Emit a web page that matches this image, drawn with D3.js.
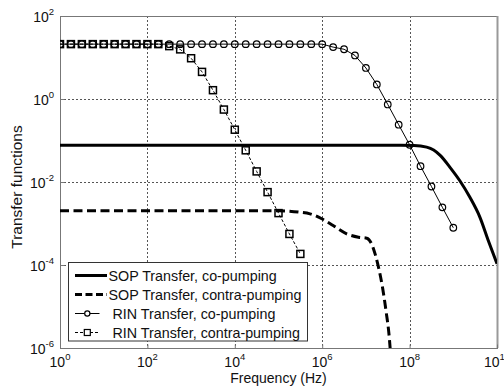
<!DOCTYPE html>
<html>
<head>
<meta charset="utf-8">
<script src="https://cdn.jsdelivr.net/npm/d3@7/dist/d3.min.js"></script>
<style>
  html, body { margin: 0; padding: 0; background: #fff; }
  svg { display: block; font-family: Arial, "Liberation Sans", sans-serif; }
</style>
</head>
<body>
<svg id="chart" width="504" height="388"></svg>
<script>
// Frequency samples are given as log10(f / Hz); transfer values are linear.
const rinCoLogF = [0, 0.25, 0.5, 0.75, 1, 1.25, 1.5, 1.75, 2, 2.25, 2.5, 2.75, 3, 3.25, 3.5, 3.75,
  4, 4.25, 4.5, 4.75, 5, 5.25, 5.5, 5.75, 6, 6.25, 6.5, 6.75, 7, 7.25, 7.5, 7.75, 8, 8.25, 8.5, 8.75, 9];
const rinCoVal = [21, 21, 21, 21, 21, 21, 21, 21, 21, 21, 21, 21, 21, 21, 21, 21,
  21, 21, 21, 21, 21, 21, 21, 21, 21, 17.8, 15.8, 11.2, 5.6, 2.24, 0.74, 0.24, 0.079, 0.024, 0.0078, 0.00245, 0.00079];

const rinContraLogF = [0, 0.25, 0.5, 0.75, 1, 1.25, 1.5, 1.75, 2, 2.25, 2.5, 2.75, 3, 3.25, 3.5, 3.75,
  4, 4.25, 4.5, 4.75, 5, 5.25, 5.5];
const rinContraVal = [21, 21, 21, 21, 21, 21, 21, 21, 21, 21, 18.8, 15.7, 9.6, 4.5, 1.63, 0.557,
  0.182, 0.058, 0.018, 0.0057, 0.00178, 0.00056, 0.000185];

const sopCoLogF = [0, 7.8, 8.1, 8.39, 8.55, 8.7, 8.92, 9.15, 9.38, 9.61, 9.8, 10];
const sopCoVal = [0.0766, 0.0766, 0.0759, 0.0692, 0.0589, 0.0437, 0.0229, 0.0107, 0.00427, 0.00141, 0.00039, 0.000107];

const sopContraLogF = [0, 5.0, 5.49, 5.72, 5.99, 6.25, 6.56, 6.83, 7.02, 7.13, 7.21, 7.28, 7.38, 7.46, 7.535, 7.57];
const sopContraVal = [0.00203, 0.00203, 0.00187, 0.00171, 0.0013, 0.000895, 0.000564, 0.000467, 0.000442,
  0.000324, 0.000185, 0.0000966, 0.0000289, 0.0000079, 0.0000018, 0.0000006];

const xTickExp = [0, 2, 4, 6, 8, 10];
const yTickExp = [-6, -4, -2, 0, 2];

const legendLabels = [
  "SOP Transfer, co-pumping",
  "SOP Transfer, contra-pumping",
  " RIN Transfer, co-pumping",
  " RIN Transfer, contra-pumping"
];

const svg = d3.select("#chart");
const plot = { left: 60, right: 497, top: 16, bottom: 348 };

const x = d3.scaleLog().domain([1, 1e10]).range([plot.left, plot.right]);
const y = d3.scaleLog().domain([1e-6, 1e2]).range([plot.bottom, plot.top]);

const toPoints = (logF, vals) => logF.map((e, i) => ({ f: Math.pow(10, e), v: vals[i] }));

svg.append("defs").append("clipPath").attr("id", "plotClip")
  .append("rect")
  .attr("x", plot.left).attr("y", plot.top)
  .attr("width", plot.right - plot.left).attr("height", plot.bottom - plot.top);

// Dotted grid
const grid = svg.append("g").attr("stroke", "#555").attr("stroke-width", 1).attr("stroke-dasharray", "2,2");
xTickExp.filter(e => e > 0 && e < 10).forEach(e => {
  const px = Math.round(x(Math.pow(10, e))) + 0.5;
  grid.append("line").attr("x1", px).attr("x2", px).attr("y1", plot.top).attr("y2", plot.bottom);
});
yTickExp.filter(e => e > -6 && e < 2).forEach(e => {
  const py = Math.round(y(Math.pow(10, e))) + 0.5;
  grid.append("line").attr("x1", plot.left).attr("x2", plot.right).attr("y1", py).attr("y2", py);
});

// Frame
svg.append("rect")
  .attr("x", plot.left + 0.5).attr("y", plot.top + 0.5)
  .attr("width", plot.right - plot.left).attr("height", plot.bottom - plot.top)
  .attr("fill", "none").attr("stroke", "#777").attr("stroke-width", 1);
svg.append("line").attr("x1", plot.right + 0.5).attr("x2", plot.right + 0.5)
  .attr("y1", plot.top).attr("y2", plot.bottom).attr("stroke", "#999").attr("stroke-width", 2);

// Power-of-ten tick labels
const fmtPow = (g, exps, isX) => {
  exps.forEach(e => {
    const t = g.append("text").attr("font-size", 14).attr("fill", "#111");
    if (isX) {
      t.attr("x", x(Math.pow(10, e))).attr("y", 367).attr("text-anchor", "middle");
    } else {
      t.attr("x", 54).attr("y", y(Math.pow(10, e)) + 6).attr("text-anchor", "end");
    }
    t.append("tspan").text("10");
    t.append("tspan").attr("font-size", 9.5).attr("dy", -7).text(e);
  });
};
const xAxisG = svg.append("g");
fmtPow(xAxisG, xTickExp, true);
const yAxisG = svg.append("g");
fmtPow(yAxisG, yTickExp, false);

// Inward ticks through d3 axes
svg.append("g").attr("transform", `translate(0,${plot.bottom + 0.5})`)
  .call(d3.axisTop(x).tickValues(xTickExp.map(e => Math.pow(10, e))).tickSize(4).tickFormat(""))
  .call(g => g.select(".domain").remove())
  .call(g => g.selectAll("line").attr("stroke", "#777"));
svg.append("g").attr("transform", `translate(${plot.left + 0.5},0)`)
  .call(d3.axisRight(y).tickValues(yTickExp.map(e => Math.pow(10, e))).tickSize(4).tickFormat(""))
  .call(g => g.select(".domain").remove())
  .call(g => g.selectAll("line").attr("stroke", "#777"));

svg.append("text").attr("x", (plot.left + plot.right) / 2).attr("y", 383)
  .attr("text-anchor", "middle").attr("font-size", 14).attr("fill", "#111").text("Frequency (Hz)");
svg.append("text").attr("transform", `translate(22,${(plot.top + plot.bottom) / 2 + 5}) rotate(-90)`)
  .attr("text-anchor", "middle").attr("font-size", 15.5).attr("fill", "#111").text("Transfer functions");

// Curves
const line = d3.line().x(d => x(d.f)).y(d => y(d.v)).curve(d3.curveMonotoneX);
const lineStraight = d3.line().x(d => x(d.f)).y(d => y(d.v));
const curves = svg.append("g").attr("clip-path", "url(#plotClip)");

const sopCo = toPoints(sopCoLogF, sopCoVal);
const sopContra = toPoints(sopContraLogF, sopContraVal);
const rinCo = toPoints(rinCoLogF, rinCoVal);
const rinContra = toPoints(rinContraLogF, rinContraVal);

curves.append("path").datum(sopCo).attr("d", line)
  .attr("fill", "none").attr("stroke", "#000").attr("stroke-width", 3);
curves.append("path").datum(sopContra).attr("d", line)
  .attr("fill", "none").attr("stroke", "#000").attr("stroke-width", 3).attr("stroke-dasharray", "9,4.5");
curves.append("path").datum(rinCo).attr("d", lineStraight)
  .attr("fill", "none").attr("stroke", "#000").attr("stroke-width", 1);
curves.append("path").datum(rinContra).attr("d", lineStraight)
  .attr("fill", "none").attr("stroke", "#000").attr("stroke-width", 1).attr("stroke-dasharray", "3,2");

curves.append("g").selectAll("circle").data(rinCo).join("circle")
  .attr("cx", d => x(d.f)).attr("cy", d => y(d.v)).attr("r", 3.3)
  .attr("fill", "none").attr("stroke", "#000").attr("stroke-width", 1.2);
curves.append("g").selectAll("rect").data(rinContra).join("rect")
  .attr("x", d => x(d.f) - 3.5).attr("y", d => y(d.v) - 3.5).attr("width", 7).attr("height", 7)
  .attr("fill", "none").attr("stroke", "#000").attr("stroke-width", 1.5);

// Legend
const lg = svg.append("g");
lg.append("rect").attr("x", 68.5).attr("y", 262.5).attr("width", 239).attr("height", 78.5)
  .attr("fill", "#fff").attr("stroke", "#333").attr("stroke-width", 1);
const rowY = [275.5, 294.5, 313.5, 332.5];
lg.append("line").attr("x1", 75).attr("x2", 107).attr("y1", rowY[0]).attr("y2", rowY[0])
  .attr("stroke", "#000").attr("stroke-width", 3);
lg.append("line").attr("x1", 75).attr("x2", 107).attr("y1", rowY[1]).attr("y2", rowY[1])
  .attr("stroke", "#000").attr("stroke-width", 3).attr("stroke-dasharray", "7,3.5");
lg.append("line").attr("x1", 75).attr("x2", 99.5).attr("y1", rowY[2]).attr("y2", rowY[2])
  .attr("stroke", "#000").attr("stroke-width", 1);
lg.append("circle").attr("cx", 87.3).attr("cy", rowY[2]).attr("r", 2.6)
  .attr("fill", "#fff").attr("stroke", "#000").attr("stroke-width", 1.2);
lg.append("line").attr("x1", 75).attr("x2", 99.5).attr("y1", rowY[3]).attr("y2", rowY[3])
  .attr("stroke", "#000").attr("stroke-width", 1).attr("stroke-dasharray", "3,2");
lg.append("rect").attr("x", 84.3).attr("y", rowY[3] - 3).attr("width", 6).attr("height", 6)
  .attr("fill", "#fff").attr("stroke", "#000").attr("stroke-width", 1.2);
legendLabels.forEach((t, i) => {
  lg.append("text").attr("x", 108.5).attr("y", rowY[i] + 5).attr("font-size", 14.3).attr("fill", "#111")
    .attr("xml:space", "preserve").style("white-space", "pre").text(t);
});
</script>
</body>
</html>
